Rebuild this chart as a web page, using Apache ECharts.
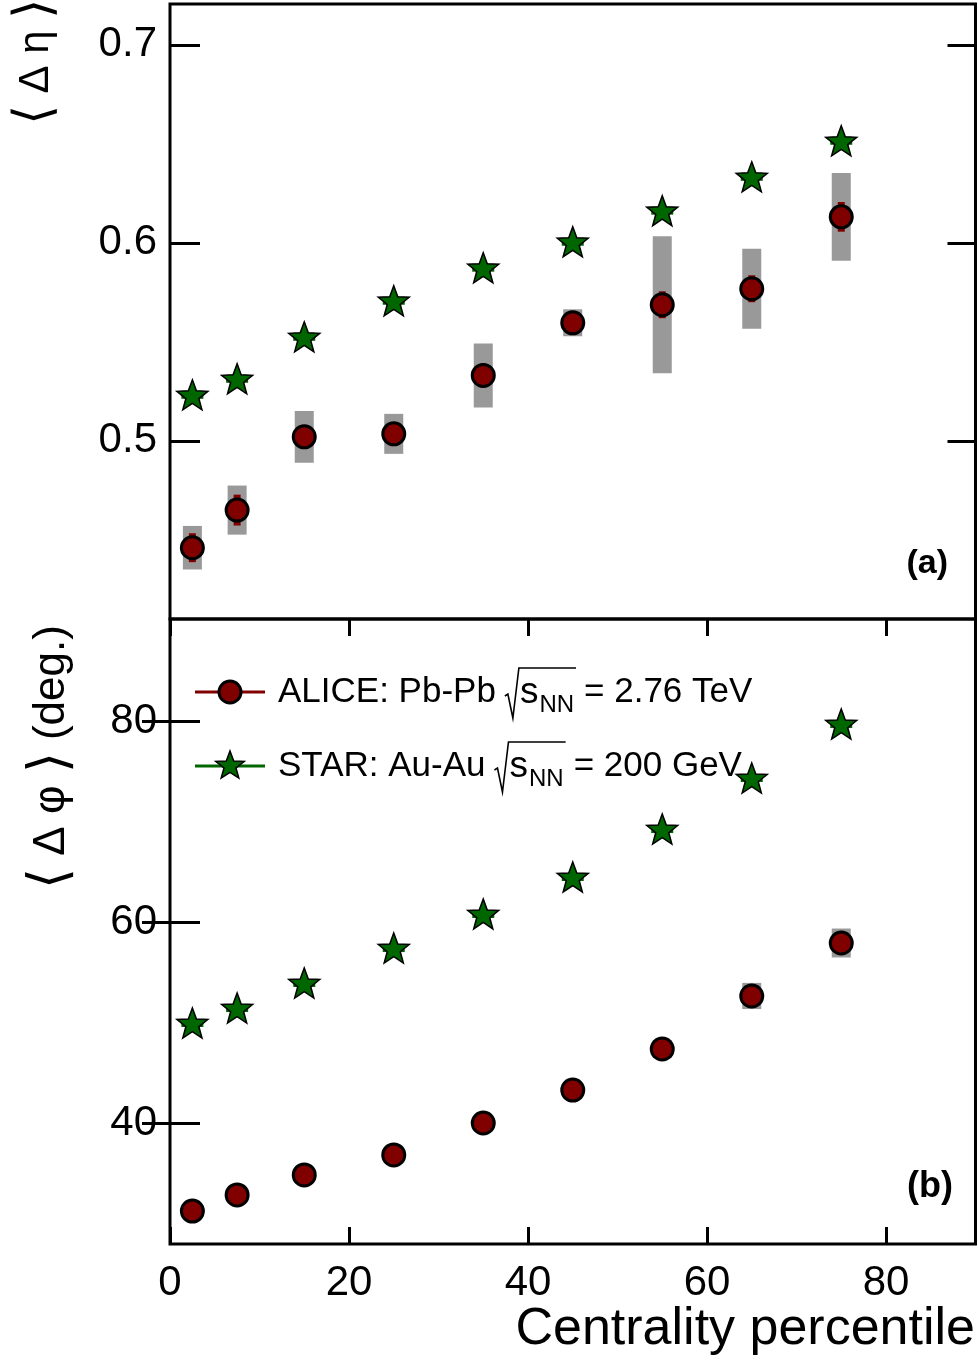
<!DOCTYPE html>
<html><head><meta charset="utf-8">
<script src="https://cdn.jsdelivr.net/npm/echarts@6/dist/echarts.min.js"></script>
<style>html,body{margin:0;padding:0;background:#fff}#c{width:978px;height:1360px}</style>
</head><body><div id="c"></div>
<script>
// ---------- data ----------
const centrality = [2.5, 7.5, 15, 25, 35, 45, 55, 65, 75];
const aliceEta     = [0.446, 0.465, 0.502, 0.5035, 0.533, 0.5596, 0.5687, 0.5768, 0.6131];
const aliceEtaStat = [0.0073, 0.0078, 0.006, 0.006, 0.006, 0.006, 0.0068, 0.0068, 0.0075];
const aliceEtaSys  = [0.011, 0.0124, 0.0131, 0.0101, 0.0162, 0.0068, 0.0346, 0.0202, 0.0222];
const starEta      = [0.5232, 0.5313, 0.5525, 0.5707, 0.5874, 0.6005, 0.6162, 0.6333, 0.6515];
const starEtaErr   = [0.002, 0.002, 0.002, 0.002, 0.002, 0.002, 0.002, 0.002, 0.002];
const alicePhi     = [31.24, 32.84, 34.83, 36.82, 40.0, 43.28, 47.36, 52.64, 57.91];
const alicePhiStat = [0.4, 0.4, 0.4, 0.4, 0.4, 0.4, 0.4, 0.5, 0.5];
const alicePhiSys  = [0.6, 0.6, 0.7, 0.7, 0.8, 0.8, 0.9, 1.3, 1.44];
const starPhi      = [49.95, 51.44, 53.93, 57.41, 60.8, 64.48, 69.25, 74.33, 79.7];
const starPhiErr   = [0.4, 0.4, 0.4, 0.4, 0.4, 0.4, 0.4, 0.4, 0.4];
const etaTicks = [0.5, 0.6, 0.7];
const phiTicks = [40, 60, 80];
const xTicks = [0, 20, 40, 60, 80];
const legendAlice = ['ALICE: Pb-Pb', '2.76 TeV'];
const legendStar = ['STAR: Au-Au', '200 GeV'];

// ---------- style ----------
const RED = '#800000', GREEN = '#006600', GRAY = '#999999';
const FF = '"Liberation Sans", Arial, Helvetica, sans-serif';
const starPts = (cx, cy, R) => {
  const pts = [], r = R * 0.42;
  for (let i = 0; i < 10; i++) {
    const a = -Math.PI / 2 + i * Math.PI / 5, rr = i % 2 ? r : R;
    pts.push([cx + rr * Math.cos(a), cy + rr * Math.sin(a)]);
  }
  return pts;
};
const STAR_PATH = 'path://' + starPts(0, 0, 10).map((p, i) => (i ? 'L' : 'M') + p[0].toFixed(3) + ',' + p[1].toFixed(3)).join(' ') + ' Z';

const chart = echarts.init(document.getElementById('c'), null, {renderer: 'canvas'});

const G0 = {left: 170, top: 4, width: 805.5, height: 615};
const G1 = {left: 170, top: 619, width: 805.5, height: 625};

function boxSeries(name, xi, yi, vals, errs, wpx, color, z) {
  return {
    type: 'custom', name, xAxisIndex: xi, yAxisIndex: yi, z, silent: true,
    clip: true,
    encode: {x: 0, y: [1, 2]},
    data: centrality.map((x, i) => [x, vals[i] - errs[i], vals[i] + errs[i]]),
    renderItem(params, api) {
      const p1 = api.coord([api.value(0), api.value(2)]);
      const p2 = api.coord([api.value(0), api.value(1)]);
      return {type: 'rect', shape: {x: p1[0] - wpx / 2, y: p1[1], width: wpx, height: p2[1] - p1[1]},
              style: {fill: color}};
    }
  };
}
function yAxisDef(gi, min, max, ticks, pos, showLabel, len) {
  return {
    type: 'value', gridIndex: gi, position: pos, min, max,
    axisLine: {show: false}, splitLine: {show: false},
    axisTick: {show: true, inside: true, length: len, customValues: ticks, lineStyle: {color: '#000', width: 3}},
    axisLabel: {show: showLabel, customValues: ticks, margin: 13, fontSize: 42, fontFamily: FF, color: '#000'}
  };
}

// ---------- legend / text graphics ----------
const mctx = document.createElement('canvas').getContext('2d');
const tw = (t, f) => { mctx.font = f; return mctx.measureText(t).width; };
const FMAIN = '35px ' + FF, FSUB = '24px ' + FF, FS = '37px ' + FF;
function legendRow(y, color, isStar, lab) {
  const els = [];
  els.push({type: 'line', shape: {x1: 195, y1: y, x2: 265, y2: y}, style: {stroke: color, lineWidth: 3}, z: 10});
  if (isStar) els.push({type: 'polygon', shape: {points: starPts(230, y, 15)}, style: {fill: GREEN, stroke: '#000', lineWidth: 1.5}, z: 11});
  else els.push({type: 'circle', shape: {cx: 230, cy: y, r: 11}, style: {fill: RED, stroke: '#000', lineWidth: 3}, z: 11});
  let x = 278;
  els.push({type: 'text', x, y, style: {text: lab[0], font: FMAIN, fill: '#000', textVerticalAlign: 'middle'}, z: 10});
  x += tw(lab[0], FMAIN) + 9;
  const rx = x, sx = rx + 15, nx = sx + tw('s', FS) + 1, ox = nx + tw('NN', FSUB) + 2;
  els.push({type: 'polyline', shape: {points: [[rx, y + 4], [rx + 3, y + 2], [rx + 8, y + 26], [rx + 14, y - 24], [ox, y - 24]]},
            style: {stroke: '#000', lineWidth: 1.6, fill: null}, z: 10});
  els.push({type: 'text', x: sx, y: y + 1, style: {text: 's', font: FS, fill: '#000', textVerticalAlign: 'middle'}, z: 10});
  els.push({type: 'text', x: nx, y: y + 13, style: {text: 'NN', font: FSUB, fill: '#000', textVerticalAlign: 'middle'}, z: 10});
  els.push({type: 'text', x: ox + 8, y, style: {text: '= ' + lab[1], font: FMAIN, fill: '#000', textVerticalAlign: 'middle'}, z: 10});
  return els;
}
const titleRich = {
  b: {fontFamily: '"DejaVu Sans", sans-serif', fontSize: 52, fontWeight: 200, color: '#000'},
  t: {fontFamily: FF, fontSize: 42, color: '#000'}
};
const titleRich2 = {
  b: {fontFamily: '"DejaVu Sans", sans-serif', fontSize: 54, fontWeight: 200, color: '#000'},
  t: {fontFamily: FF, fontSize: 44, color: '#000'}
};
const graphics = [].concat(
  legendRow(692, RED, false, legendAlice),
  legendRow(766, GREEN, true, legendStar),
  [
    {type: 'text', x: 36, y: 62, rotation: Math.PI / 2,
     style: {text: '{b|\u27E8}{t| \u0394 \u03B7 }{b|\u27E9}', rich: titleRich, textAlign: 'center', textVerticalAlign: 'middle'}},
    {type: 'text', x: 52, y: 757, rotation: Math.PI / 2,
     style: {text: '{b|\u27E8}{t| \u0394 \u03C6 }{b|\u27E9}{t| (deg.)}', rich: titleRich2, textAlign: 'center', textVerticalAlign: 'middle'}},
    {type: 'text', x: 975, y: 1330,
     style: {text: 'Centrality percentile', font: '52px ' + FF, fill: '#000', textAlign: 'right', textVerticalAlign: 'middle'}},
    {type: 'text', x: 948, y: 564,
     style: {text: '(a)', font: 'bold 34px ' + FF, fill: '#000', textAlign: 'right', textVerticalAlign: 'middle'}},
    {type: 'text', x: 953, y: 1187,
     style: {text: '(b)', font: 'bold 36px ' + FF, fill: '#000', textAlign: 'right', textVerticalAlign: 'middle'}}
  ]
);

const option = {
  animation: false,
  backgroundColor: '#fff',
  grid: [
    Object.assign({show: true, borderColor: '#000', borderWidth: 3, backgroundColor: 'transparent'}, G0),
    Object.assign({show: true, borderColor: '#000', borderWidth: 3, backgroundColor: 'transparent'}, G1)
  ],
  xAxis: [
    {type: 'value', gridIndex: 0, min: 0, max: 90, axisLine: {show: false}, axisTick: {show: false}, axisLabel: {show: false}, splitLine: {show: false}},
    {type: 'value', gridIndex: 1, min: 0, max: 90, position: 'bottom', axisLine: {show: false}, splitLine: {show: false},
     axisTick: {show: true, inside: true, length: 17, customValues: xTicks, lineStyle: {color: '#000', width: 3}},
     axisLabel: {show: true, customValues: xTicks, margin: 18, fontSize: 42, fontFamily: FF, color: '#000'}},
    {type: 'value', gridIndex: 1, min: 0, max: 90, position: 'top', axisLine: {show: false}, splitLine: {show: false},
     axisTick: {show: true, inside: true, length: 17, customValues: xTicks, lineStyle: {color: '#000', width: 3}},
     axisLabel: {show: false}}
  ],
  yAxis: [
    yAxisDef(0, 0.41, 0.7206, etaTicks, 'left', true, 30),
    yAxisDef(0, 0.41, 0.7206, etaTicks, 'right', false, 28),
    yAxisDef(1, 27.96, 90.15, phiTicks, 'left', true, 30),
    yAxisDef(1, 27.96, 90.15, phiTicks, 'right', false, 28)
  ],
  series: [
    boxSeries('ALICE sys eta', 0, 0, aliceEta, aliceEtaSys, 19, GRAY, 1),
    boxSeries('ALICE stat eta', 0, 0, aliceEta, aliceEtaStat, 7, RED, 2),
    boxSeries('STAR err eta', 0, 0, starEta, starEtaErr, 22, GREEN, 2),
    {type: 'scatter', name: 'ALICE eta', xAxisIndex: 0, yAxisIndex: 0, z: 5,
     data: centrality.map((x, i) => [x, aliceEta[i]]), symbol: 'circle', symbolSize: 22,
     itemStyle: {color: RED, borderColor: '#000', borderWidth: 3, opacity: 1}},
    {type: 'scatter', name: 'STAR eta', xAxisIndex: 0, yAxisIndex: 0, z: 5,
     data: centrality.map((x, i) => [x, starEta[i]]), symbol: STAR_PATH, symbolSize: [31, 30],
     itemStyle: {color: GREEN, borderColor: '#000', borderWidth: 1.5, opacity: 1}},
    boxSeries('ALICE sys phi', 1, 2, alicePhi, alicePhiSys, 19, GRAY, 1),
    boxSeries('ALICE stat phi', 1, 2, alicePhi, alicePhiStat, 7, RED, 2),
    boxSeries('STAR err phi', 1, 2, starPhi, starPhiErr, 22, GREEN, 2),
    {type: 'scatter', name: 'ALICE phi', xAxisIndex: 1, yAxisIndex: 2, z: 5,
     data: centrality.map((x, i) => [x, alicePhi[i]]), symbol: 'circle', symbolSize: 22,
     itemStyle: {color: RED, borderColor: '#000', borderWidth: 3, opacity: 1}},
    {type: 'scatter', name: 'STAR phi', xAxisIndex: 1, yAxisIndex: 2, z: 5,
     data: centrality.map((x, i) => [x, starPhi[i]]), symbol: STAR_PATH, symbolSize: [31, 30],
     itemStyle: {color: GREEN, borderColor: '#000', borderWidth: 1.5, opacity: 1}}
  ],
  graphic: graphics
};
chart.setOption(option);
</script></body></html>
